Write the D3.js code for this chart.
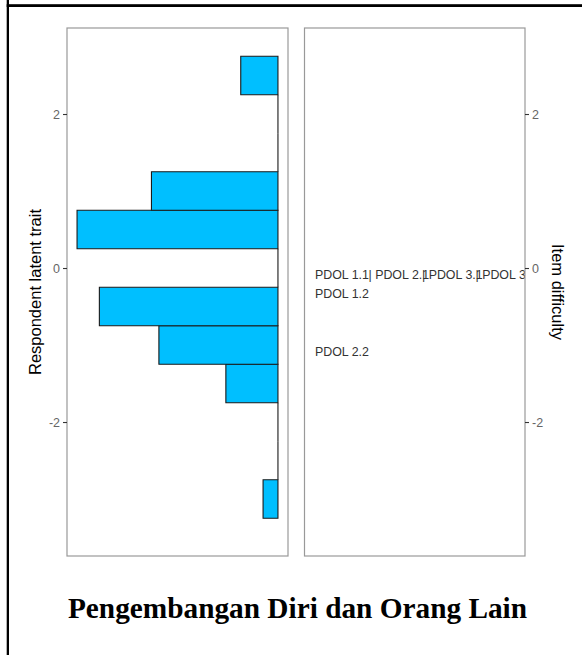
<!DOCTYPE html>
<html>
<head>
<meta charset="utf-8">
<script src="https://cdn.jsdelivr.net/npm/d3@7"></script>
<style>
  html, body { margin: 0; padding: 0; background: #fff; }
  svg { display: block; }
</style>
</head>
<body>
<svg id="chart" width="582" height="655"></svg>
<script>
// Respondent histogram: bin lower edges (logits) and counts per bin
const binStarts = [-3.25, -2.75, -2.25, -1.75, -1.25, -0.75, -0.25, 0.25, 0.75, 1.25, 1.75, 2.25];
const binCounts = [2, 0, 0, 7, 16, 24, 0, 27, 17, 0, 0, 5];
const binWidth = 0.5;

// Item difficulties; items sharing a value are listed on one row
const itemNames = ["PDOL 1.1", "PDOL 2.1", "PDOL 3.1", "PDOL 3.2", "PDOL 1.2", "PDOL 2.2"];
const itemDifficulty = [-0.08, -0.08, -0.08, -0.08, -0.33, -1.08];

const tickValues = [-2, 0, 2];
const leftTitle = "Respondent latent trait";
const rightTitle = "Item difficulty";
const chartTitle = "Pengembangan Diri dan Orang Lain";

const svg = d3.select("#chart");
const sans = "'Liberation Sans', Arial, sans-serif";

// Panel geometry
const panelTop = 28, panelBottom = 556;
const leftPanel = { x0: 67, x1: 288 };
const rightPanel = { x0: 304.5, x1: 525 };

// Shared vertical (logit) scale
const y = d3.scaleLinear().domain([-3.74, 3.117]).range([panelBottom, panelTop]);

// Count scale, mirrored so bars grow leftward; 5% padding on both ends
const maxCount = d3.max(binCounts);
const pad = maxCount * 0.05;
const x = d3.scaleLinear()
  .domain([-pad, maxCount + pad])
  .range([leftPanel.x1, leftPanel.x0]);

// Outer frame lines
svg.append("rect").attr("x", 6.7).attr("y", 0).attr("width", 2.3).attr("height", 655).attr("fill", "#000");
svg.append("rect").attr("x", 6.7).attr("y", 4.2).attr("width", 576).attr("height", 2.8).attr("fill", "#000");

// Clip paths for the panels
const defs = svg.append("defs");
defs.append("clipPath").attr("id", "clipL").append("rect")
  .attr("x", leftPanel.x0).attr("y", panelTop)
  .attr("width", leftPanel.x1 - leftPanel.x0).attr("height", panelBottom - panelTop);
defs.append("clipPath").attr("id", "clipR").append("rect")
  .attr("x", rightPanel.x0).attr("y", panelTop)
  .attr("width", rightPanel.x1 - rightPanel.x0).attr("height", panelBottom - panelTop);

// Histogram bars (empty bins drawn as zero-width outlines)
const bins = binStarts.map((s, i) => ({ lo: s, hi: s + binWidth, n: binCounts[i] }));
svg.append("g").attr("clip-path", "url(#clipL)")
  .selectAll("path").data(bins).join("path")
  .attr("d", d => {
    const xa = x(0), xb = x(d.n), ya = y(d.hi), yb = y(d.lo);
    return `M${xa},${ya}H${xb}V${yb}H${xa}Z`;
  })
  .attr("fill", "#00BFFF")
  .attr("stroke", "#1a1a1a")
  .attr("stroke-width", 1.1);

// Item labels: items at the same difficulty are set side by side
const rows = d3.groups(itemNames.map((n, i) => ({ name: n, d: itemDifficulty[i] })), d => d.d);
const labelStart = rightPanel.x0 + 10.5;
const labelStep = 53.5;
const labels = [];
rows.forEach(([d, items]) => {
  items.forEach((it, k) => {
    labels.push({ text: (k > 0 ? "| " : "") + it.name, x: labelStart + k * labelStep, d: d });
  });
});
svg.append("g").attr("clip-path", "url(#clipR)")
  .selectAll("text").data(labels).join("text")
  .attr("x", d => d.x)
  .attr("y", d => y(d.d))
  .attr("dy", "0.36em")
  .attr("font-family", sans)
  .attr("font-size", 12.4)
  .attr("fill", "#333")
  .text(d => d.text);

// Panel borders
[leftPanel, rightPanel].forEach(p => {
  svg.append("rect")
    .attr("x", p.x0).attr("y", panelTop)
    .attr("width", p.x1 - p.x0).attr("height", panelBottom - panelTop)
    .attr("fill", "none").attr("stroke", "#999").attr("stroke-width", 1.2);
});

// Axes
const axL = svg.append("g").attr("transform", `translate(${leftPanel.x0},0)`)
  .call(d3.axisLeft(y).tickValues(tickValues).tickSize(4).tickPadding(3).tickFormat(d3.format("d")));
const axR = svg.append("g").attr("transform", `translate(${rightPanel.x1},0)`)
  .call(d3.axisRight(y).tickValues(tickValues).tickSize(4).tickPadding(3).tickFormat(d3.format("d")));
[axL, axR].forEach(ax => {
  ax.select(".domain").remove();
  ax.selectAll(".tick line").attr("stroke", "#333").attr("stroke-width", 1.1);
  ax.selectAll(".tick text")
    .attr("font-family", sans).attr("font-size", 12.5).attr("fill", "#666")
    .text(d => d < 0 ? "-" + Math.abs(d) : d);
});

// Axis titles
const midY = (panelTop + panelBottom) / 2;
svg.append("text")
  .attr("transform", `translate(40.5,${midY}) rotate(-90)`)
  .attr("text-anchor", "middle")
  .attr("font-family", sans).attr("font-size", 16.5).attr("fill", "#000")
  .text(leftTitle);
svg.append("text")
  .attr("transform", `translate(552,${midY}) rotate(90)`)
  .attr("text-anchor", "middle")
  .attr("font-family", sans).attr("font-size", 16.5).attr("fill", "#000")
  .text(rightTitle);

// Chart title
svg.append("text")
  .attr("x", 297.5).attr("y", 618)
  .attr("text-anchor", "middle")
  .attr("font-family", "'Liberation Serif', 'Times New Roman', serif")
  .attr("font-weight", "bold").attr("font-size", 29.3).attr("fill", "#000")
  .text(chartTitle);
</script>
</body>
</html>
